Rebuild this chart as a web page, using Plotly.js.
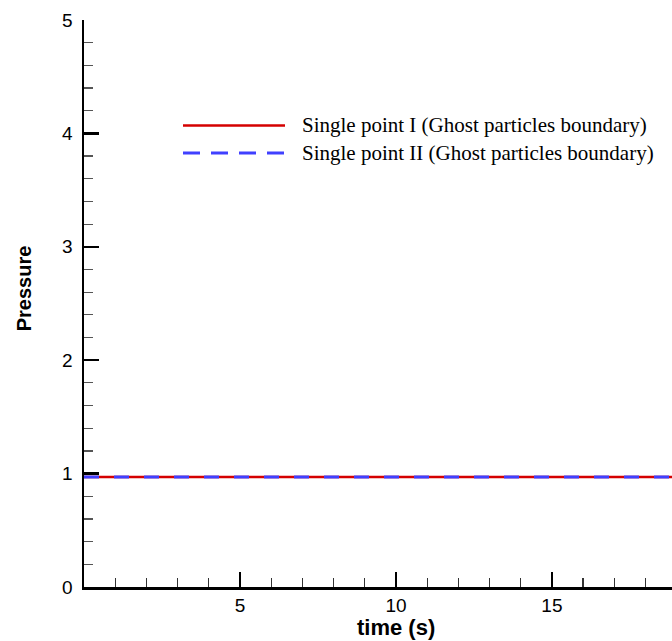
<!DOCTYPE html>
<html>
<head>
<meta charset="utf-8">
<script src="https://cdn.plot.ly/plotly-3.0.1.min.js"></script>
<style>html,body{margin:0;padding:0;background:#fff;}#chart{width:672px;height:641px;}</style>
</head>
<body>
<div id="chart"></div>
<script>
// Data
const time = [0, 2, 4, 6, 8, 10, 12, 14, 16, 18, 20];
const pressureI = [0.97, 0.97, 0.97, 0.97, 0.97, 0.97, 0.97, 0.97, 0.97, 0.97, 0.97];
const pressureII = [0.97, 0.97, 0.97, 0.97, 0.97, 0.97, 0.97, 0.97, 0.97, 0.97, 0.97];
const seriesNames = ["Single point I (Ghost particles boundary)", "Single point II (Ghost particles boundary)"];
const xTicks = [5, 10, 15];
const yTicks = [0, 1, 2, 3, 4, 5];
const xTitle = "time (s)";
const yTitle = "Pressure";

const red = "#d40000";
const blue = "#4040ff";

const traces = [
  {x: time, y: pressureI, name: seriesNames[0], mode: "lines", line: {color: red, width: 2.5}},
  {x: time, y: pressureII, name: seriesNames[1], mode: "lines", line: {color: blue, width: 3, dash: "15px,15px"}}
];

const legY = [(587-125)/567.5, (587-152.5)/567.5];
const serif = "Liberation Serif, Times New Roman, serif";
const sans = "Liberation Sans, Arial, sans-serif";

const layout = {
  width: 672, height: 641,
  margin: {l: 84, r: 0, t: 19.5, b: 54, pad: 0},
  paper_bgcolor: "#fff", plot_bgcolor: "#fff",
  showlegend: false,
  font: {family: sans, size: 16, color: "#000"},
  xaxis: {
    range: [0, 18.85], showgrid: false, zeroline: false,
    showline: true, linecolor: "#000", linewidth: 2.5,
    tickmode: "array", tickvals: xTicks, ticktext: xTicks.map(String),
    ticks: "inside", ticklen: 15, tickwidth: 2.5, tickcolor: "#000",
    tickfont: {size: 19}, ticklabelstandoff: 0,
    minor: {dtick: 1, tick0: 0, ticks: "inside", ticklen: 9, tickwidth: 1.2, tickcolor: "#333", showgrid: false}
  },
  yaxis: {
    range: [0, 5], showgrid: false, zeroline: false,
    showline: true, linecolor: "#000", linewidth: 2.5,
    tickmode: "array", tickvals: yTicks, ticktext: yTicks.map(String),
    ticks: "inside", ticklen: 15, tickwidth: 2.5, tickcolor: "#000",
    tickfont: {size: 19}, ticklabelstandoff: 5,
    minor: {dtick: 0.2, tick0: 0, ticks: "inside", ticklen: 9, tickwidth: 1.2, tickcolor: "#555", showgrid: false}
  },
  shapes: [
    {type: "line", xref: "paper", yref: "paper", x0: (183-84)/588, x1: (285-84)/588,
     y0: legY[0], y1: legY[0], line: {color: red, width: 2.5}},
    {type: "line", xref: "paper", yref: "paper", x0: (183-84)/588, x1: (285-84)/588,
     y0: legY[1], y1: legY[1], line: {color: blue, width: 3, dash: "17px,11px"}}
  ],
  annotations: [
    {text: seriesNames[0], xref: "paper", yref: "paper", x: (300-84)/588, y: legY[0],
     xanchor: "left", yanchor: "middle", showarrow: false,
     font: {family: serif, size: 21, color: "#000"}},
    {text: seriesNames[1], xref: "paper", yref: "paper", x: (300-84)/588, y: legY[1],
     xanchor: "left", yanchor: "middle", showarrow: false,
     font: {family: serif, size: 21, color: "#000"}},
    {text: "<b>" + xTitle + "</b>", xref: "x", yref: "paper", x: 10, y: -(628-587)/567.5,
     xanchor: "center", yanchor: "middle", showarrow: false,
     font: {family: sans, size: 22, color: "#000"}},
    {text: "<b>" + yTitle + "</b>", xref: "paper", yref: "paper", x: -(84-24)/588, y: (587-288)/567.5,
     xanchor: "center", yanchor: "middle", showarrow: false, textangle: -90,
     font: {family: sans, size: 20, color: "#000"}}
  ]
};

Plotly.newPlot("chart", traces, layout, {displayModeBar: false, staticPlot: true});
</script>
</body>
</html>
